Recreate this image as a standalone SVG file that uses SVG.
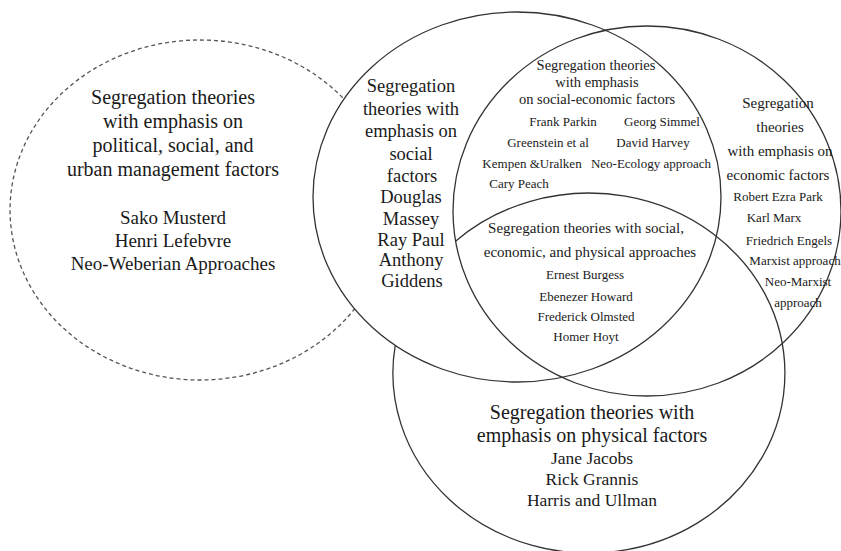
<svg xmlns="http://www.w3.org/2000/svg" width="841" height="551" viewBox="0 0 841 551">
<style>
.ring{fill:none;stroke:#333;stroke-width:1.3}
.dash{fill:none;stroke:#555;stroke-width:1.3;stroke-dasharray:4 3}
text{font-family:"Liberation Serif","Times New Roman",serif;fill:#1a1a1a;text-anchor:middle}
.h20{font-size:20px}
.n19{font-size:19px}
.s18{font-size:18.5px}
.h15{font-size:15px}
.h14{font-size:14.5px}
.n13{font-size:13px}
.n17{font-size:17.5px}
</style>
<rect width="841" height="551" fill="#fff"/>
<g id="political">
<path class="dash" d="M342.7 97.7 A190 170 0 1 0 354.5 309"/>
<text class="h20" x="173" y="104">Segregation theories</text>
<text class="h20" x="173" y="128">with emphasis on</text>
<text class="h20" x="173" y="152">political, social, and</text>
<text class="h20" x="173" y="176">urban management factors</text>
<text class="n19" x="173" y="224">Sako Musterd</text>
<text class="n19" x="173" y="247">Henri Lefebvre</text>
<text class="n19" x="173" y="270">Neo-Weberian Approaches</text>
</g>
<g id="physical">
<path class="ring" d="M455.5 241.2 A196 180 0 1 1 395.2 345.6"/>
<text class="h20" x="592" y="419">Segregation theories with</text>
<text class="h20" x="592" y="442">emphasis on physical factors</text>
<text class="n17" x="592" y="464">Jane Jacobs</text>
<text class="n17" x="592" y="485">Rick Grannis</text>
<text class="n17" x="592" y="506">Harris and Ullman</text>
</g>
<g id="social">
<ellipse class="ring" cx="517" cy="197" rx="204" ry="185"/>
<text class="s18" x="411" y="92">Segregation</text>
<text class="s18" x="411" y="115">theories with</text>
<text class="s18" x="411" y="137">emphasis on</text>
<text class="s18" x="411" y="160">social</text>
<text class="s18" x="412" y="182">factors</text>
<text class="s18" x="411" y="203">Douglas</text>
<text class="s18" x="411" y="225">Massey</text>
<text class="s18" x="411" y="246">Ray Paul</text>
<text class="s18" x="411" y="266">Anthony</text>
<text class="s18" x="412" y="287">Giddens</text>
</g>
<g id="economic">
<ellipse class="ring" cx="647" cy="211" rx="194" ry="185"/>
<text class="h15" x="778" y="108">Segregation</text>
<text class="h15" x="780" y="132">theories</text>
<text class="h15" x="780" y="156">with emphasis on</text>
<text class="h15" x="778" y="180">economic factors</text>
<text class="n13" x="778" y="201">Robert Ezra Park</text>
<text class="n13" x="774" y="222">Karl Marx</text>
<text class="n13" x="789" y="245">Friedrich Engels</text>
<text class="n13" x="795" y="265">Marxist approach</text>
<text class="n13" x="798" y="286">Neo-Marxist</text>
<text class="n13" x="798" y="307">approach</text>
</g>
<g id="social-economic">
<text class="h14" x="596" y="70">Segregation theories</text>
<text class="h14" x="597" y="87">with emphasis</text>
<text class="h14" x="597" y="104">on social-economic factors</text>
<text class="n13" x="563" y="126">Frank Parkin</text>
<text class="n13" x="662" y="126">Georg Simmel</text>
<text class="n13" x="548" y="147">Greenstein et al</text>
<text class="n13" x="653" y="147">David Harvey</text>
<text class="n13" x="532" y="168">Kempen &amp;Uralken</text>
<text class="n13" x="651" y="168">Neo-Ecology approach</text>
<text class="n13" x="519" y="188">Cary Peach</text>
</g>
<g id="social-economic-physical">
<text class="h15" x="586" y="233">Segregation theories with social,</text>
<text class="h15" x="590" y="257">economic, and physical approaches</text>
<text class="n13" x="585" y="279">Ernest Burgess</text>
<text class="n13" x="586" y="301">Ebenezer Howard</text>
<text class="n13" x="586" y="321">Frederick Olmsted</text>
<text class="n13" x="586" y="341">Homer Hoyt</text>
</g>
</svg>
